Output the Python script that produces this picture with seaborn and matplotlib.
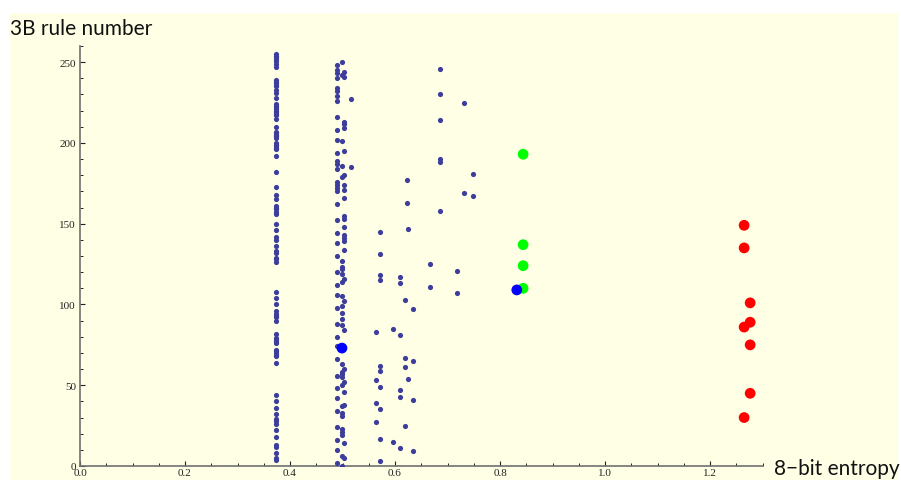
import numpy as np
import pandas as pd
import matplotlib
matplotlib.use("Agg")
import matplotlib.pyplot as plt
from matplotlib.patches import Rectangle
from matplotlib.ticker import MultipleLocator, FixedLocator
import seaborn as sns

# ---- elementary CA rules grouped by their 8-bit entropy ----
entropy_a = 0.374
rules_a = [247, 249, 251, 252, 253, 254, 255,
           231, 233, 235, 236, 237, 238, 239, 228,
           215, 217, 218, 219, 220, 221, 222, 223, 224, 210,
           203, 204, 205, 206, 207, 196, 197, 198, 199, 200,
           192, 182, 173, 168, 165, 156, 157, 159, 160, 161,
           150, 146, 140, 142, 136, 133, 126, 128, 129, 132,
           108, 104, 100, 90, 92, 93, 94, 96, 82,
           76, 77, 78, 79, 68, 69, 70, 71, 72, 64,
           44, 40, 36, 32, 29, 28, 26, 22, 18, 13, 12, 8, 5, 4]

entropy_b = 0.489
rules_b = [248, 245, 243, 240, 234, 232, 229, 226, 216, 208, 202, 194,
           189, 187, 184, 176, 174, 172, 170, 162, 152, 144, 138, 130,
           120, 112, 106, 98, 88, 80, 74, 66, 56, 48, 42, 34, 24, 16, 10, 2]

entropy_c = 0.499
rules_c = [250, 242, 201, 186, 179, 127, 123, 122, 119, 114, 105, 99, 95,
           91, 87, 63, 58, 57, 55, 50, 37, 33, 31, 23, 21, 19, 6, 0]

entropy_d = 0.503
rules_d = [244, 241, 213, 212, 209, 195, 180, 174, 171, 166, 155, 153,
           148, 143, 141, 139, 134, 116, 102, 84, 60, 52, 46, 38, 14, 5]

entropy_e = 0.517
rules_e = [227, 185]

mid_entropies = [0.563, 0.572, 0.597, 0.610, 0.619, 0.622, 0.624,
                 0.634, 0.666, 0.686, 0.718, 0.732, 0.748]
mid_rules = [[83, 53, 39, 27],
             [145, 131, 118, 115, 62, 59, 49, 35, 17, 3],
             [85, 15],
             [117, 113, 81, 47, 43, 11],
             [103, 67, 61, 25],
             [177, 163],
             [147, 54],
             [97, 65, 41, 9],
             [125, 111],
             [246, 230, 214, 190, 188, 158],
             [121, 107],
             [225, 169],
             [181, 167]]

# highlighted classes
green_entropy = 0.844
green_rules = [193, 137, 124, 110]

blue_entropies = [0.499, 0.832]
blue_rules = [73, 109]

red_entropies = [1.265, 1.265, 1.265, 1.265, 1.2765, 1.2765, 1.2765, 1.2765]
red_rules = [149, 135, 86, 30, 101, 89, 75, 45]

# ---- tidy tables ----
small_x, small_y = [], []
for e, rs in [(entropy_a, rules_a), (entropy_b, rules_b), (entropy_c, rules_c),
              (entropy_d, rules_d), (entropy_e, rules_e)] + list(zip(mid_entropies, mid_rules)):
    small_x += [e] * len(rs)
    small_y += rs
small = pd.DataFrame({"entropy": small_x, "rule": small_y})

big = pd.concat([
    pd.DataFrame({"entropy": [green_entropy] * len(green_rules), "rule": green_rules, "cls": "green"}),
    pd.DataFrame({"entropy": blue_entropies, "rule": blue_rules, "cls": "blue"}),
    pd.DataFrame({"entropy": red_entropies, "rule": red_rules, "cls": "red"}),
], ignore_index=True)

sns.set_style("ticks")
plt.rcParams["font.family"] = ["DejaVu Sans"]

W, H = 901, 481
fig = plt.figure(figsize=(W / 100, H / 100), dpi=100)
fig.patch.set_facecolor("white")
fig.patches.append(Rectangle((10 / W, 0), (898 - 10) / W, (H - 14) / H,
                             transform=fig.transFigure, facecolor="#FFFFE6",
                             edgecolor="none", zorder=-10))

left, right, top, bottom = 80, 762.5, 47, 467
ax = fig.add_axes([left / W, (H - bottom) / H, (right - left) / W, (bottom - top) / H])
ax.set_facecolor("none")
ax.set_zorder(1)

sns.scatterplot(data=small, x="entropy", y="rule", ax=ax, color="#3d3d9c",
                s=14, linewidth=0, legend=False, zorder=3)
sns.scatterplot(data=big, x="entropy", y="rule", hue="cls", ax=ax,
                palette={"green": "#00ff00", "blue": "#0000ff", "red": "#ff0000"},
                hue_order=["green", "blue", "red"],
                s=60, linewidth=0, legend=False, zorder=4)

ax.set_xlim(0, 1.3)
ax.set_ylim(0, 260)
ax.set_xlabel("")
ax.set_ylabel("")

ax.xaxis.set_major_locator(FixedLocator([0.0, 0.2, 0.4, 0.6, 0.8, 1.0, 1.2]))
ax.xaxis.set_minor_locator(MultipleLocator(0.05))
ax.yaxis.set_major_locator(FixedLocator([0, 50, 100, 150, 200, 250]))
ax.yaxis.set_minor_locator(MultipleLocator(10))
ax.set_xticklabels(["0.0", "0.2", "0.4", "0.6", "0.8", "1.0", "1.2"])
ax.set_yticklabels(["0", "50", "100", "150", "200", "250"])

for sp in ["top", "right"]:
    ax.spines[sp].set_visible(False)
for sp in ["left", "bottom"]:
    ax.spines[sp].set_color("#707070")
    ax.spines[sp].set_linewidth(1.2)

ax.tick_params(which="major", direction="in", length=3.5, width=0.8, color="#222222")
ax.tick_params(which="minor", direction="in", length=2.2, width=0.7, color="#222222")
ax.tick_params(axis="x", which="major", pad=1.5)
ax.tick_params(axis="y", which="major", pad=3)
for lab in ax.get_xticklabels() + ax.get_yticklabels():
    lab.set_fontfamily("Liberation Serif")
    lab.set_fontsize(8)
    lab.set_color("#222222")

fig.text(10 / W, (H - 35) / H, "3B rule number", family="Lato", fontsize=15,
         color="#111111", ha="left", va="baseline")
fig.text(774 / W, (H - 475) / H, "8\u2212bit entropy", family="Lato", fontsize=15,
         color="#111111", ha="left", va="baseline")

fig.savefig("out.png", dpi=100)
